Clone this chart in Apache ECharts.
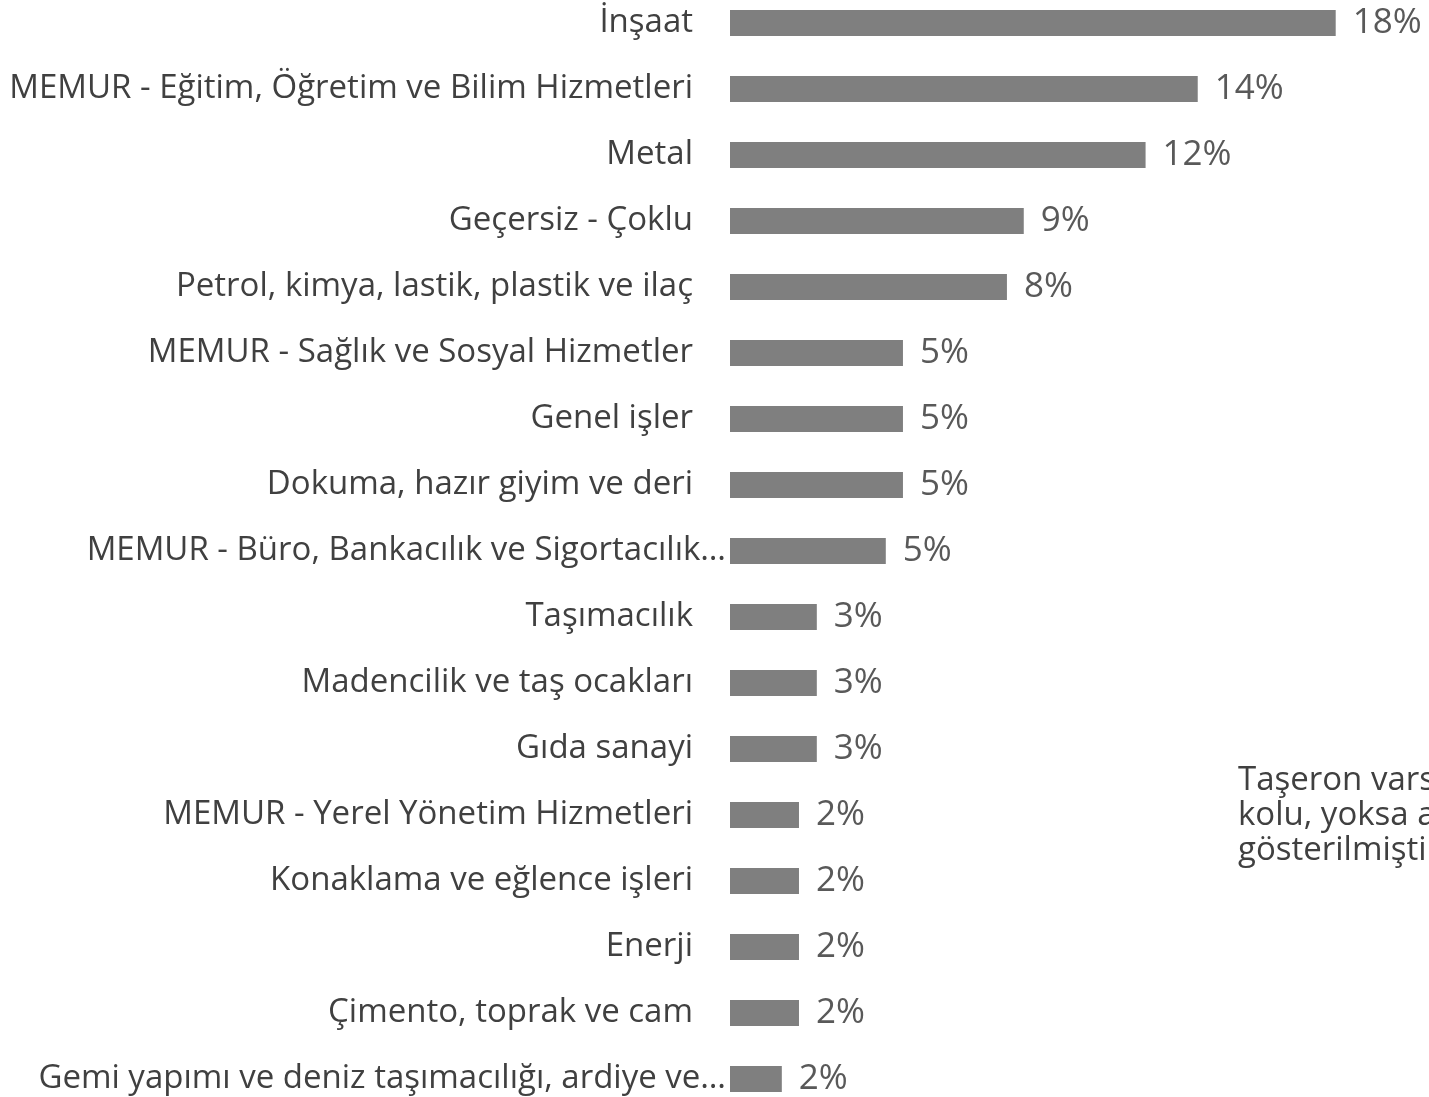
<!DOCTYPE html>
<html>
<head>
<meta charset="utf-8">
<script src="https://cdn.jsdelivr.net/npm/echarts@6/dist/echarts.min.js"></script>
<style>
  html, body { margin: 0; padding: 0; background: #fff; overflow: hidden; }
  /* grafik, üstteki çubuğun kenara yakın durması için biraz yukarı kaydırıldı */
  #chart { position: absolute; left: 0; top: -16px; width: 1429px; height: 1140px; }
</style>
</head>
<body>
<div id="chart"></div>
<script>
// kategoriler (yukarıdan aşağıya)
const categories = [
  'İnşaat',
  'MEMUR - Eğitim, Öğretim ve Bilim Hizmetleri',
  'Metal',
  'Geçersiz - Çoklu',
  'Petrol, kimya, lastik, plastik ve ilaç',
  'MEMUR - Sağlık ve Sosyal Hizmetler',
  'Genel işler',
  'Dokuma, hazır giyim ve deri',
  'MEMUR - Büro, Bankacılık ve Sigortacılık…',
  'Taşımacılık',
  'Madencilik ve taş ocakları',
  'Gıda sanayi',
  'MEMUR - Yerel Yönetim Hizmetleri',
  'Konaklama ve eğlence işleri',
  'Enerji',
  'Çimento, toprak ve cam',
  'Gemi yapımı ve deniz taşımacılığı, ardiye ve…'
]

// yüzde değerleri (çubuk uzunluklarından okundu)
const values = [18.0, 13.9, 12.35, 8.73, 8.23, 5.14, 5.14, 5.14, 4.63, 2.58, 2.58, 2.58, 2.05, 2.05, 2.05, 2.05, 1.54]

const note = 'Taşeron varsa taşeronun iş\nkolu, yoksa ana firmanın iş kolu\ngösterilmiştir.'

const chart = echarts.init(document.getElementById('chart'))

chart.setOption({
  animation: false,
  textStyle: { fontFamily: 'Open Sans' },
  grid: {
    left: 730,
    width: 673,
    top: 6,
    height: 1122
  },
  xAxis: {
    type: 'value',
    min: 0,
    max: 20,
    show: false
  },
  yAxis: {
    type: 'category',
    inverse: true,
    data: categories,
    axisLine: { show: false },
    axisTick: { show: false },
    axisLabel: {
      margin: 4,
      color: '#404040',
      fontSize: 33,
      formatter: v => v.endsWith('…') ? `{t|${v}}` : `{n|${v}}`,
      rich: {
        n: { fontSize: 33, color: '#404040', padding: [0, 33, 0, 0] },
        t: { fontSize: 33, color: '#404040' }
      }
    }
  },
  series: [
    {
      type: 'bar',
      data: values,
      barWidth: 26,
      itemStyle: { color: '#7f7f7f' },
      label: {
        show: true,
        position: 'right',
        distance: 17,
        color: '#595959',
        fontSize: 35,
        formatter: p => Math.round(p.value) + '%'
      }
    }
  ],
  graphic: [
    {
      type: 'text',
      left: 1238,
      top: 779,
      style: {
        text: note,
        fill: '#404040',
        font: '33px "Open Sans"',
        lineHeight: 35
      }
    }
  ]
})
</script>
</body>
</html>
